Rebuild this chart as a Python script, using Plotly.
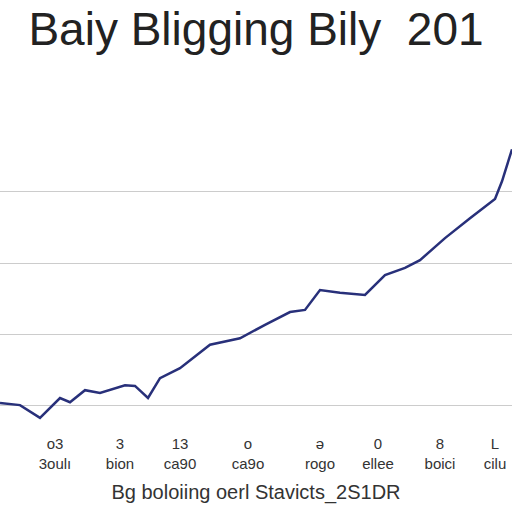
import plotly.graph_objects as go

x_vals = [0,20,40,60,70,85,100,125,135,148,160,180,210,240,265,290,305,320,340,365,385,405,420,445,470,495,502,512]
y_vals = [0.03,0.0,-0.18,0.1,0.04,0.21,0.17,0.28,0.27,0.1,0.38,0.52,0.85,0.94,1.13,1.31,1.34,1.62,1.58,1.55,1.83,1.93,2.04,2.35,2.63,2.9,3.15,3.6]
tick_pos = [12,55,120,180,248,320,378,440,495]
tick_text = ["<br>ssiq","o3<br>3oulı","3<br>bion","13<br>ca90","o<br>ca9o","ə<br>rogo","0<br>ellee","8<br>boici","L<br>cilu"]

fig = go.Figure(go.Scatter(x=x_vals, y=y_vals, mode="lines",
                           line=dict(color="#28307a", width=2.5)))
fig.update_layout(
    width=512, height=512, margin=dict(l=0, r=0, t=128, b=87, autoexpand=False),
    paper_bgcolor="white", plot_bgcolor="white", showlegend=False,
    title=dict(text="Baiy Bligging Bily  201", x=0.5, y=0.975, yanchor="top", xanchor="center",
               font=dict(family="Liberation Sans", size=46, color="#222")),
    font=dict(family="Liberation Sans", size=15, color="#333"),
)
fig.update_xaxes(range=[0,512], tickvals=tick_pos, ticktext=tick_text, showgrid=False,
                 zeroline=False, showline=False, ticks="", automargin=False, ticklabelstandoff=8,
                 title=dict(text="Bg boloiing oerl Stavicts_2S1DR", font=dict(size=20, color="#333"), standoff=14))
fig.update_yaxes(range=[-0.28,3.9], dtick=1, tick0=0, showticklabels=False, automargin=False,
                 gridcolor="#cccccc", gridwidth=1, zeroline=False)
fig.write_html("out.html", config={"displayModeBar": False},
               post_script="document.body.style.margin='0';")
